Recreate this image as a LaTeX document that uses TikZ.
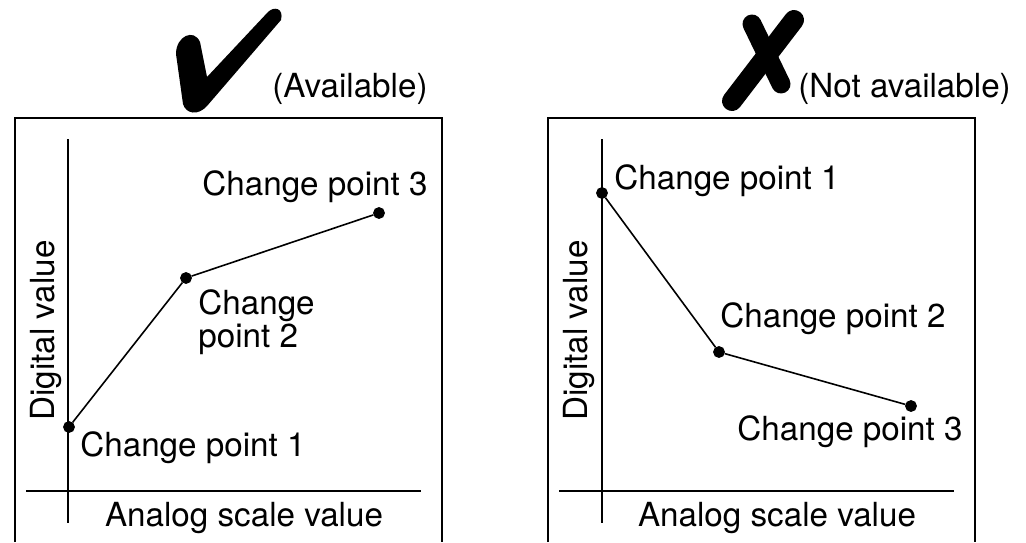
\documentclass[tikz,border=0pt]{standalone}
\usepackage{fontspec}
\setmainfont{TeX Gyre Heros}
\begin{document}
\begin{tikzpicture}[x=0.5pt,y=-0.5pt,
  pt/.style={draw,circle,fill,inner sep=0pt,minimum size=5.5pt},
  lbl/.style={inner sep=0pt,font=\fontsize{16.6}{16.5}\selectfont},
  frame/.style={line width=1.3pt},
  axis/.style={line width=1.1pt},
  curve/.style={line width=0.8pt},
  brush/.style={line width=9.5pt,line cap=round}]
  \useasboundingbox (0,0) rectangle (1026,542);

  % available
  \fill (176,54) .. controls (176,36) and (194,28) .. (200,42) -- (207,77)
    -- (268,12) .. controls (274,6) and (284,8) .. (281,20) -- (207,106)
    .. controls (198,116) and (186,114) .. (183,104) -- cycle;
  \node[lbl,anchor=base west] (avail) at (272,97) {(Available)};
  \draw[frame] (15,542) -- (15,118) -- (442,118) -- (442,542);
  \coordinate (LYtop) at (68,139);
  \coordinate (LYbot) at (68,523);
  \coordinate (LXl) at (26,491);
  \coordinate (LXr) at (421,491);
  \draw[axis] (LYtop) -- (LYbot);
  \draw[axis] (LXl) -- (LXr);
  \node[pt] (L1) at (69,427) {};
  \node[pt] (L2) at (186,278) {};
  \node[pt] (L3) at (379,213) {};
  \draw[curve] (L1) -- (L2) -- (L3);
  \node[lbl,anchor=base west] (L1t) at (80,456) {Change point 1};
  \node[lbl,anchor=base west,align=left] (L2t) at (198,347) {Change\\point 2};
  \node[lbl,anchor=base east] (L3t) at (428,195) {Change point 3};
  \node[lbl,rotate=90,anchor=base west] (LYt) at (54,421) {Digital value};
  \node[lbl,anchor=base] (LXt) at (244,526) {Analog scale value};

  % not available
  \draw[brush] (752,24) -- (781,84);
  \draw[brush,line width=10pt] (794,20) -- (732,101);
  \node[lbl,anchor=base west] (notavail) at (798,97) {(Not available)};
  \draw[frame] (548,542) -- (548,118) -- (975,118) -- (975,542);
  \coordinate (RYtop) at (602,139);
  \coordinate (RYbot) at (602,523);
  \coordinate (RXl) at (559,491);
  \coordinate (RXr) at (954,491);
  \draw[axis] (RYtop) -- (RYbot);
  \draw[axis] (RXl) -- (RXr);
  \node[pt] (R1) at (602,193) {};
  \node[pt] (R2) at (719,352) {};
  \node[pt] (R3) at (911,406) {};
  \draw[curve] (R1) -- (R2) -- (R3);
  \node[lbl,anchor=base west] (R1t) at (614,189) {Change point 1};
  \node[lbl,anchor=base west] (R2t) at (720,327) {Change point 2};
  \node[lbl,anchor=base east] (R3t) at (963,440) {Change point 3};
  \node[lbl,rotate=90,anchor=base west] (RYt) at (587,421) {Digital value};
  \node[lbl,anchor=base] (RXt) at (777,526) {Analog scale value};
\end{tikzpicture}
\end{document}
